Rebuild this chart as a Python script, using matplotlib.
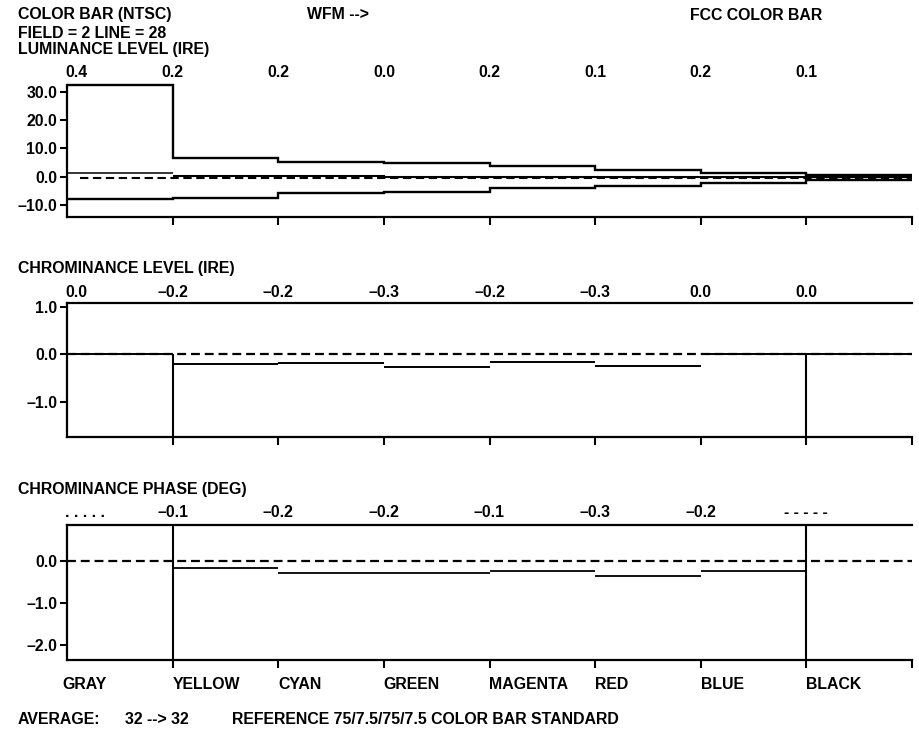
import numpy as np
import matplotlib
matplotlib.use('Agg')
import matplotlib.pyplot as plt
import matplotlib.transforms as mtransforms

plt.rcParams['font.family'] = ['Liberation Sans', 'DejaVu Sans']
plt.rcParams['font.weight'] = 'bold'
plt.rcParams['font.size'] = 11.4

# ---- data ----
bars = ['GRAY', 'YELLOW', 'CYAN', 'GREEN', 'MAGENTA', 'RED', 'BLUE', 'BLACK']

lum_upper = [32.4, 6.5, 5.3, 4.9, 3.8, 2.4, 1.2, 0.6]
lum_mid = [1.2, 0.1, 0.1, -0.2, -0.2, -0.2, -0.2, -0.2]
lum_lower = [-8.0, -7.4, -5.6, -5.3, -4.1, -3.3, -2.3, -1.0]
lum_ref = -0.5
lum_labels = ['0.4', '0.2', '0.2', '0.0', '0.2', '0.1', '0.2', '0.1']
lum_yticks = [30.0, 20.0, 10.0, 0.0, -10.0]

chroma_level = [0.0, -0.19, -0.17, -0.26, -0.16, -0.24, 0.0, 0.0]
chroma_ref = 0.0
chroma_labels = ['0.0', '-0.2', '-0.2', '-0.3', '-0.2', '-0.3', '0.0', '0.0']
chroma_yticks = [1.0, 0.0, -1.0]

phase = [np.nan, -0.18, -0.28, -0.28, -0.24, -0.36, -0.24, np.nan]
phase_ref = 0.0
phase_labels = ['. . . . .', '-0.1', '-0.2', '-0.2', '-0.1', '-0.3', '-0.2', '- - - - -']
phase_yticks = [0.0, -1.0, -2.0]

W, H = 919, 731
edges = np.arange(len(bars) + 1)
DASH = (4, 2.2)


def dash(s):
    # report uses an en dash for negative numbers
    return s.replace('-0', '\u20130').replace('-1', '\u20131').replace('-2', '\u20132')


def fy(y):
    return 1 - y / H


fig = plt.figure(figsize=(W / 100, H / 100), dpi=100)


def make_ax(top, bottom, ylim, yticks, frame_top):
    ax = fig.add_axes([67 / W, fy(bottom), 845 / W, (bottom - top) / H])
    ax.set_xlim(0, len(bars))
    ax.set_ylim(*ylim)
    for side in ['left', 'bottom', 'top']:
        ax.spines[side].set_linewidth(1.6)
    ax.spines['right'].set_visible(False)
    ax.spines['top'].set_visible(frame_top)
    ax.set_xticks(edges[1:])
    ax.set_xticklabels([])
    ax.set_yticks(yticks)
    ax.set_yticklabels([dash('%.1f' % v) for v in yticks])
    ax.tick_params(axis='y', direction='out', length=5, width=1.5, pad=2)
    ax.tick_params(axis='x', direction='out', length=5.8, width=1.5)
    return ax


def top_labels(ax, labels, ybase):
    tr = mtransforms.blended_transform_factory(ax.transData, fig.transFigure)
    for i, lab in enumerate(labels):
        if i == 0:
            ax.text(-0.02, fy(ybase), dash(lab), transform=tr, ha='left', va='baseline')
        else:
            ax.text(edges[i], fy(ybase), dash(lab), transform=tr, ha='center', va='baseline')


# ---- luminance ----
ax_l = make_ax(85, 216.7, (-14.1, 32.4), lum_yticks, False)
ax_l.hlines(lum_ref, 0.12, len(bars), colors='black', lw=1.5, linestyles=[(0, DASH)])
ax_l.stairs(lum_upper, edges, baseline=None, color='black', lw=1.7, clip_on=False)
ax_l.stairs(lum_lower, edges, baseline=None, color='black', lw=1.7)
ax_l.hlines(lum_mid[0], edges[0], edges[1], colors='black', lw=1.1)
ax_l.stairs(lum_mid[1:], edges[1:], baseline=None, color='black', lw=1.5)
top_labels(ax_l, lum_labels, 77.3)

# ---- chrominance level ----
ax_c = make_ax(302.7, 437.3, (-1.73, 1.08), chroma_yticks, True)
ax_c.hlines(chroma_ref, 0, len(bars), colors='black', lw=1.6, linestyles=[(0, DASH)])
ax_c.hlines(chroma_level, edges[:-1], edges[1:], colors='black', lw=1.4)
ax_c.vlines([edges[1], edges[-2]], -1.73, [chroma_level[0], chroma_level[-1]], colors='black', lw=1.5)
top_labels(ax_c, chroma_labels, 296.7)

# ---- chrominance phase ----
ax_p = make_ax(525, 660, (-2.35, 0.85), phase_yticks, True)
ax_p.hlines(phase_ref, 0, len(bars), colors='black', lw=1.6, linestyles=[(0, DASH)])
ph = np.array(phase)
ok = ~np.isnan(ph)
ax_p.hlines(ph[ok], edges[:-1][ok], edges[1:][ok], colors='black', lw=1.3)
for e in [edges[1], edges[-2]]:
    ax_p.axvline(e, color='black', lw=1.5)
top_labels(ax_p, phase_labels, 517.3)

tr = mtransforms.blended_transform_factory(ax_p.transData, fig.transFigure)
for i, name in enumerate(bars):
    ax_p.text(edges[i] if i else -0.04, fy(689), name, transform=tr, ha='left', va='baseline')

# ---- header / footer text ----
fig.text(18 / W, fy(19.3), 'COLOR BAR (NTSC)', va='baseline')
fig.text(18 / W, fy(38.3), 'FIELD = 2 LINE = 28', va='baseline')
fig.text(18 / W, fy(54.3), 'LUMINANCE LEVEL (IRE)', va='baseline')
fig.text(307 / W, fy(19.3), 'WFM -->', va='baseline')
fig.text(690 / W, fy(20.3), 'FCC COLOR BAR', va='baseline')
fig.text(18 / W, fy(272.7), 'CHROMINANCE LEVEL (IRE)', va='baseline')
fig.text(18 / W, fy(494), 'CHROMINANCE PHASE (DEG)', va='baseline')
fig.text(18 / W, fy(724), 'AVERAGE:', va='baseline')
fig.text(125 / W, fy(724), '32 --> 32', va='baseline')
fig.text(232 / W, fy(724), 'REFERENCE 75/7.5/75/7.5 COLOR BAR STANDARD', va='baseline')

fig.savefig('out.png', dpi=100)
